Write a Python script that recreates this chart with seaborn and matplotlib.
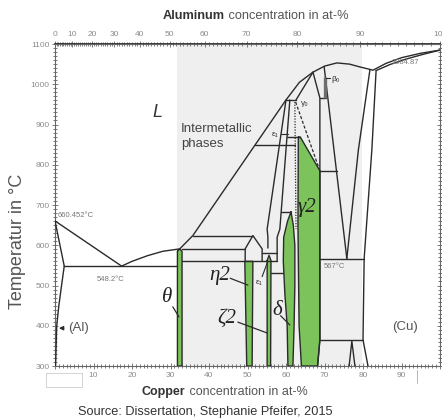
import numpy as np
import pandas as pd
import matplotlib
matplotlib.use('Agg')
import matplotlib.pyplot as plt
from matplotlib.lines import Line2D
from matplotlib.patches import Rectangle
from matplotlib.ticker import MultipleLocator, FixedLocator, FuncFormatter
import seaborn as sns

# Al-Cu phase diagram: x = Cu in at-%, T in degC

# Al-rich side
al_liquidus_x = [0.0, 17.3]
al_liquidus_t = [660.45, 548.2]
al_solidus_x = [0.0, 2.4]
al_solidus_t = [660.45, 548.2]
al_solvus_x = [2.4, 1.7, 1.0, 0.45, 0.15]
al_solvus_t = [548.2, 500, 450, 400, 300]
eutectic_x = [2.4, 31.8]
eutectic_t = [548.2, 548.2]
theta_liq_x = [17.3, 20.0, 24.0, 28.0, 32.4]
theta_liq_t = [548.2, 560, 574, 585, 591]

# liquidus across the intermetallics and Cu side
liquidus_x = [32.4, 35.8, 60.0, 63.5, 67.0, 70.0, 73.2, 76.5, 79.2, 82.6, 86.0, 90.0, 95.0, 100.0]
liquidus_t = [591, 624, 961, 1005, 1030, 1045, 1053, 1050, 1043, 1035, 1052, 1066, 1077, 1084.87]
cu_solidus_x = [83.4, 87.0, 91.0, 95.5, 100.0]
cu_solidus_t = [1034, 1049, 1062, 1074, 1084.87]
cu_solvus_x = [83.4, 82.3, 80.3, 80.0, 81.3]
cu_solvus_t = [1034, 837, 567, 365, 300]

# beta / gamma region
beta_right_x = [81.8, 78.8, 75.8]
beta_right_t = [1036, 837, 567]
beta_left_x = [69.9, 75.8]
beta_left_t = [1044, 567]
gamma_right_x = [67.0, 68.8, 68.8, 68.2]
gamma_right_t = [1030, 966, 365, 300]
gamma0_left_x = [67.0, 62.6]
gamma0_left_t = [1030, 961]
beta0_x = [70.0, 70.0]
beta0_t = [1018, 966]

# epsilon / delta / eta / zeta region
eps_left_x = [60.0, 55.1, 55.3, 55.3]
eps_left_t = [961, 640, 620, 593]
eps_right_x = [61.0, 58.4, 57.7, 57.7]
eps_right_t = [961, 640, 620, 560]
eta1_x = [49.4, 49.4, 51.4, 53.8, 53.8]
eta1_t = [560, 591, 624, 591, 560]

# horizontal invariant lines: (x from, x to, T)
iso_from = [60.0, 51.9, 60.3, 68.8, 68.8, 68.8, 68.8, 58.7, 35.8, 33.0, 33.0, 53.8, 56.1]
iso_to = [62.6, 62.3, 63.6, 70.4, 73.2, 80.3, 80.0, 61.3, 51.4, 49.4, 57.7, 57.7, 59.3]
iso_t = [961, 849, 869, 966, 785, 567, 365, 683, 624, 591, 560, 581, 530]

alpha2_x = [76.4, 77.1, 77.9]
alpha2_t = [300, 362, 300]

# dashed gamma1 boundaries
gamma1_dot_x = [62.3, 62.6]
gamma1_dot_t = [956, 640]
gamma1_dash_x = [62.5, 68.8]
gamma1_dash_t = [956, 785]

# single phase fields shaded green
theta_x = [31.8, 32.4, 33.0, 33.0, 31.8]
theta_t = [585, 591, 585, 300, 300]
eta2_x = [49.3, 51.4, 51.2, 49.8]
eta2_t = [560, 560, 300, 300]
zeta2_x = [55.1, 55.6, 56.1, 56.0, 55.1]
zeta2_t = [562, 575, 562, 300, 300]
delta_x = [61.3, 60.4, 59.4, 59.3, 59.7, 60.3, 60.5, 61.8, 62.1, 62.3, 62.3, 61.9, 61.3]
delta_t = [683, 660, 620, 560, 480, 400, 300, 300, 400, 500, 600, 650, 683]
gamma2_x = [63.2, 63.7, 68.8, 68.8, 68.2, 64.0, 63.4, 63.1, 63.2]
gamma2_t = [869, 869, 785, 365, 300, 300, 400, 650, 869]

# phase labels
phase_names = ['\u03b8', '\u03b72', '\u03b62', '\u03b4', '\u03b32']
phase_x = [29.1, 42.9, 44.7, 57.7, 65.5]
phase_t = [471, 526, 419, 439, 693]
lead_x0 = [30.6, 45.5, 47.5, 58.6, None]
lead_t0 = [447, 518, 409, 425, None]
lead_x1 = [32.2, 50.1, 55.1, 61.0, None]
lead_t1 = [422, 501, 382, 402, None]

small_names = ['660.452\u00b0C', '548.2\u00b0C', '567\u00b0C', '1084.87']
small_x = [0.6, 14.5, 72.5, 91.0]
small_t = [675, 516, 546, 1053]

tiny_names = ['\u03b2\u2080', '\u03b3\u2080', '\u03b5\u2081', '\u03b5\u2081']
tiny_x = [71.9, 65.0, 57.2, 53.1]
tiny_t = [1012, 952, 876, 508]
tiny_lead_x0 = [70.3, None, 58.6, 53.8]
tiny_lead_t0 = [1016, None, 877, 522]
tiny_lead_x1 = [71.5, None, 60.4, 55.2]
tiny_lead_t1 = [1016, None, 877, 558]

bottom_ticks = list(range(0, 101, 10))
left_ticks = list(range(300, 1101, 100))
top_ticks = list(range(0, 101, 10))

GREEN = '#7cc35c'
LINE = '#2b2b2b'
SHADE = '#efefef'

M_CU, M_AL = 63.546, 26.982


def at_to_wt(a):
    a = np.asarray(a, dtype=float)
    with np.errstate(all='ignore'):
        return 100 * a * M_CU / (a * M_CU + (100 - a) * M_AL)


def wt_to_at(w):
    w = np.asarray(w, dtype=float)
    with np.errstate(all='ignore'):
        return 100 * (w / M_CU) / (w / M_CU + (100 - w) / M_AL)


sns.set_theme(style='white')
plt.rcParams['font.family'] = ['Liberation Sans', 'DejaVu Sans']

fig = plt.figure(figsize=(4.42, 4.19), dpi=100)
ax = fig.add_axes([55 / 442, 1 - 366 / 419, 385 / 442, 322 / 419])
ax.set_xlim(0, 100)
ax.set_ylim(300, 1100)

ax.axvspan(31.7, 79.8, color=SHADE, lw=0, zorder=0)

greens = [(theta_x, theta_t), (eta2_x, eta2_t), (zeta2_x, zeta2_t),
          (delta_x, delta_t), (gamma2_x, gamma2_t)]
for gx, gt in greens:
    ax.fill(gx, gt, color=GREEN, lw=0, zorder=1)

solid = {
    'al_liq': (al_liquidus_x, al_liquidus_t),
    'al_sol': (al_solidus_x, al_solidus_t),
    'al_solv': (al_solvus_x, al_solvus_t),
    'eut': (eutectic_x, eutectic_t),
    'theta_liq': (theta_liq_x, theta_liq_t),
    'liq': (liquidus_x, liquidus_t),
    'cu_sol': (cu_solidus_x, cu_solidus_t),
    'cu_solv': (cu_solvus_x, cu_solvus_t),
    'beta_r': (beta_right_x, beta_right_t),
    'beta_l': (beta_left_x, beta_left_t),
    'gamma_r': (gamma_right_x, gamma_right_t),
    'gamma0_l': (gamma0_left_x, gamma0_left_t),
    'eps_l': (eps_left_x, eps_left_t),
    'eps_r': (eps_right_x, eps_right_t),
    'eta1': (eta1_x, eta1_t),
    'alpha2': (alpha2_x, alpha2_t),
}
for i, (a, b, t) in enumerate(zip(iso_from, iso_to, iso_t)):
    solid[f'iso{i}'] = ([a, b], [t, t])
for i, (gx, gt) in enumerate(greens):
    solid[f'green{i}'] = (list(gx) + [gx[0]], list(gt) + [gt[0]])

lines = pd.concat([pd.DataFrame({'x': xs, 'T': ts, 'seg': name})
                   for name, (xs, ts) in solid.items()], ignore_index=True)
sns.lineplot(data=lines, x='x', y='T', units='seg', estimator=None, sort=False,
             color=LINE, lw=1.0, ax=ax, legend=False, zorder=3)

sns.lineplot(x=gamma1_dot_x, y=gamma1_dot_t, color=LINE, lw=0.9, ls=(0, (1, 1.2)),
             ax=ax, legend=False, zorder=3)
sns.lineplot(x=gamma1_dash_x, y=gamma1_dash_t, color=LINE, lw=0.9, ls=(0, (2.5, 1.5)),
             ax=ax, legend=False, zorder=3, sort=False)
ax.plot(beta0_x, beta0_t, color='#6e6e6e', lw=2.4, zorder=3, solid_capstyle='butt')

# labels
serif = ['Liberation Serif', 'DejaVu Serif']
for name, x, t in zip(phase_names, phase_x, phase_t):
    ax.text(x, t, name, family=serif, style='italic', fontsize=15, color='#222222',
            ha='center', va='center', zorder=4)
for x0, t0, x1, t1 in zip(lead_x0, lead_t0, lead_x1, lead_t1):
    if x0 is not None:
        ax.plot([x0, x1], [t0, t1], color=LINE, lw=0.9, zorder=4)

for name, x, t in zip(small_names, small_x, small_t):
    ax.text(x, t, name, fontsize=5.5, color='#777777', ha='left' if x < 1 else 'center',
            va='center', zorder=4)
for name, x, t in zip(tiny_names, tiny_x, tiny_t):
    ax.text(x, t, name, fontsize=6, color='#333333', ha='left' if x > 70 else 'center',
            va='center', zorder=4)
for x0, t0, x1, t1 in zip(tiny_lead_x0, tiny_lead_t0, tiny_lead_x1, tiny_lead_t1):
    if x0 is not None:
        ax.plot([x0, x1], [t0, t1], color=LINE, lw=0.8, zorder=4)

ax.text(26.5, 931, 'L', fontsize=13, style='italic', color='#333333', ha='center', va='center')
ax.text(32.7, 870, 'Intermetallic\nphases', fontsize=9.5, color='#444444', ha='left',
        va='center', linespacing=1.25)
ax.text(3.3, 394, '(Al)', fontsize=9.5, color='#555555', ha='left', va='center')
ax.annotate('', xy=(0.3, 394), xytext=(3.0, 394),
            arrowprops=dict(arrowstyle='-|>', color=LINE, lw=0.9, mutation_scale=6))
ax.text(90.9, 397, '(Cu)', fontsize=9.5, color='#555555', ha='center', va='center')

# axes and ticks
for sp in ax.spines.values():
    sp.set_color('#666666')
    sp.set_linewidth(0.8)
ax.set_xticks(bottom_ticks)
ax.xaxis.set_major_formatter(FuncFormatter(lambda v, p: '' if v in (0, 100) else f'{v:.0f}'))
ax.xaxis.set_minor_locator(MultipleLocator(1))
ax.set_yticks(left_ticks)
ax.yaxis.set_minor_locator(MultipleLocator(10))
ax.tick_params(which='both', direction='inout', color='#666666', width=0.6,
               bottom=True, left=True, right=True, top=False)
ax.tick_params(which='major', length=4, labelsize=6, labelcolor='#8c8c8c', pad=2)
ax.tick_params(which='minor', length=2.2)
ax.set_xlabel('')
ax.set_ylabel('')

top = ax.secondary_xaxis('top', functions=(at_to_wt, wt_to_at))
top.set_xticks(top_ticks)
top.xaxis.set_minor_locator(FixedLocator(np.arange(0, 101, 1)))
top.tick_params(which='both', direction='inout', color='#666666', width=0.6)
top.tick_params(which='major', length=4, labelsize=6, labelcolor='#8c8c8c', pad=2)
top.tick_params(which='minor', length=2.2)

# titles
t1 = fig.text(163 / 442, 1 - 16 / 419, 'Aluminum', fontsize=9.2, fontweight='bold',
              color='#333333', va='center', ha='left')
fig.text(0, 0, ' concentration in at-%', fontsize=9.2, color='#555555', va='baseline', ha='left')
fig.texts[-1].remove()
ax.annotate(' concentration in at-%', xy=(1, 0), xycoords=t1, va='bottom', ha='left',
            fontsize=9.2, color='#555555', annotation_clip=False)
b1 = fig.text(142 / 442, 1 - 392 / 419, 'Copper', fontsize=9, fontweight='bold',
              color='#333333', va='center', ha='left')
ax.annotate(' concentration in at-%', xy=(1, 0), xycoords=b1, va='bottom', ha='left',
            fontsize=9, color='#555555', annotation_clip=False)
fig.text(205 / 442, 1 - 412 / 419, 'Source: Dissertation, Stephanie Pfeifer, 2015',
         fontsize=9.2, color='#333333', ha='center', va='center')
fig.text(18 / 442, 1 - 241 / 419, 'Temperatur in \u00b0C', fontsize=13, color='#555555',
         rotation=90, ha='center', va='center')

# small leftovers of the scanned original
fig.add_artist(Rectangle((46 / 442, 1 - 387 / 419), 36 / 442, 14 / 419,
                         transform=fig.transFigure, fc='white', ec='#cccccc', lw=0.6))
fig.add_artist(Line2D([417 / 442, 417 / 442], [1 - 370 / 419, 1 - 383 / 419],
                      transform=fig.transFigure, color='#aaaaaa', lw=0.6))

fig.savefig('out.png', dpi=100)
